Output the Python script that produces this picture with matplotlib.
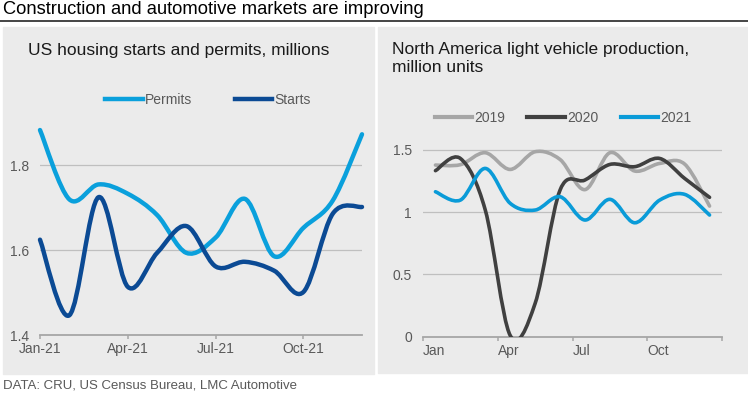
import numpy as np
import matplotlib
matplotlib.use("Agg")
import matplotlib.pyplot as plt
from matplotlib.path import Path
from matplotlib.patches import PathPatch, Rectangle
from matplotlib.lines import Line2D

plt.rcParams['font.family'] = ['Liberation Sans', 'DejaVu Sans']

# US housing, millions (Jan-21 .. Dec-21)
housing_months = list(range(12))
permits = [1.883, 1.720, 1.755, 1.733, 1.683, 1.594, 1.630, 1.721, 1.586, 1.653, 1.717, 1.873]
starts = [1.625, 1.447, 1.725, 1.514, 1.594, 1.657, 1.562, 1.573, 1.552, 1.502, 1.686, 1.702]
housing_ticks = [0, 3, 6, 9]
housing_labels = ['Jan-21', 'Apr-21', 'Jul-21', 'Oct-21']

# North America light vehicle production, million units
veh_months = list(range(12))
lv_2019 = [1.377, 1.380, 1.476, 1.342, 1.484, 1.422, 1.180, 1.476, 1.329, 1.390, 1.385, 1.048]
lv_2020 = [1.332, 1.430, 1.016, 0.010, 0.267, 1.176, 1.257, 1.382, 1.364, 1.430, 1.270, 1.118]
lv_2021 = [1.163, 1.096, 1.350, 1.070, 1.016, 1.123, 0.936, 1.102, 0.914, 1.096, 1.142, 0.976]
veh_labels = ['Jan', 'Apr', 'Jul', 'Oct']

TXT = '#595959'
GRID = '#BFBFBF'
AXIS = '#A6A6A6'
BG = '#EBEBEB'


def smooth_path(x, y):
    # excel-like smoothed line: cubic bezier segments, catmull-rom tangents
    x = np.asarray(x, float)
    y = np.asarray(y, float)
    n = len(x)
    verts = [(x[0], y[0])]
    codes = [Path.MOVETO]
    for i in range(n - 1):
        i0 = max(i - 1, 0)
        i3 = min(i + 2, n - 1)
        c1 = (x[i] + (x[i + 1] - x[i0]) / 6, y[i] + (y[i + 1] - y[i0]) / 6)
        c2 = (x[i + 1] - (x[i3] - x[i]) / 6, y[i + 1] - (y[i3] - y[i]) / 6)
        verts += [c1, c2, (x[i + 1], y[i + 1])]
        codes += [Path.CURVE4] * 3
    return Path(verts, codes)


def add_line(ax, x, y, color, lw, clip=True):
    p = PathPatch(smooth_path(x, y), fill=False, edgecolor=color, lw=lw,
                  capstyle='round', joinstyle='round', zorder=3, clip_on=clip)
    ax.add_patch(p)


def style_axes(ax):
    ax.set_facecolor('none')
    for s in ['top', 'right', 'left']:
        ax.spines[s].set_visible(False)
    ax.spines['bottom'].set_color(AXIS)
    ax.spines['bottom'].set_linewidth(1.3)
    ax.tick_params(axis='y', length=0, labelsize=10, labelcolor=TXT, pad=8)
    ax.tick_params(axis='x', length=3, width=1.1, color=AXIS, labelsize=10,
                   labelcolor=TXT, pad=2, direction='out')
    ax.grid(axis='y', color=GRID, lw=0.9)
    ax.set_axisbelow(True)


fig = plt.figure(figsize=(7.48, 3.99), dpi=100)
W, H = 748, 399

# header
fig.text(3 / W, 1 - 10 / H, 'Construction and automotive markets are improving',
         fontsize=13.2, color='black', va='center', ha='left')
fig.add_artist(Line2D([0, 1], [1 - 21 / H, 1 - 21 / H], color='#262626', lw=1.2))

# panel backgrounds
fig.add_artist(Rectangle((3 / W, 1 - 374 / H), 371 / W, 347 / H, color=BG, zorder=0))
fig.add_artist(Rectangle((378 / W, 1 - 373 / H), 370 / W, 346 / H, color=BG, zorder=0))

fig.text(3 / W, 1 - 385 / H, 'DATA: CRU, US Census Bureau, LMC Automotive',
         fontsize=9.5, color=TXT, va='center', ha='left')

# left panel: housing
ax1 = fig.add_axes([40 / W, 1 - 335.3 / H, 322 / W, 212.5 / H])
style_axes(ax1)
add_line(ax1, housing_months, permits, '#0AA0DC', 3.2, clip=False)
add_line(ax1, housing_months, starts, '#0B4A94', 3.2, clip=False)
ax1.set_xlim(0, 11)
ax1.set_ylim(1.4, 1.9)
ax1.set_yticks([1.4, 1.6, 1.8])
ax1.set_yticklabels(['1.4', '1.6', '1.8'])
ax1.set_xticks(housing_ticks)
ax1.set_xticklabels(housing_labels)
fig.text(28 / W, 1 - 50 / H, 'US housing starts and permits, millions',
         fontsize=12.5, color='#1A1A1A', va='center', ha='left')
h1 = [Line2D([], [], color='#0AA0DC', lw=3.2), Line2D([], [], color='#0B4A94', lw=3.2)]
fig.legend(h1, ['Permits', 'Starts'], loc='center', bbox_to_anchor=(208 / W, 1 - 100 / H),
           ncol=2, frameon=False, fontsize=10, labelcolor=TXT, handlelength=2.7,
           handletextpad=0.15, columnspacing=3.1)

# right panel: vehicles
ax2 = fig.add_axes([423 / W, 1 - 336.7 / H, 299 / W, 193.2 / H])
style_axes(ax2)
add_line(ax2, veh_months, lv_2019, '#A6A6A6', 2.6)
add_line(ax2, veh_months, lv_2020, '#404040', 2.6)
add_line(ax2, veh_months, lv_2021, '#0A9BD8', 2.6)
ax2.set_xlim(-0.5, 11.5)
ax2.set_ylim(0, 1.55)
ax2.set_yticks([0, 0.5, 1, 1.5])
ax2.set_yticklabels(['0', '0.5', '1', '1.5'])
ax2.set_xticks([-0.5, 2.5, 5.5, 8.5, 11.5])
ax2.set_xticklabels(veh_labels + [''], ha='left')
fig.text(392 / W, 1 - 58.5 / H, 'North America light vehicle production,\nmillion units',
         fontsize=12.5, color='#1A1A1A', va='center', ha='left', linespacing=1.2)
h2 = [Line2D([], [], color='#A6A6A6', lw=3), Line2D([], [], color='#404040', lw=3),
      Line2D([], [], color='#0A9BD8', lw=3)]
fig.legend(h2, ['2019', '2020', '2021'], loc='center', bbox_to_anchor=(563 / W, 1 - 118 / H),
           ncol=3, frameon=False, fontsize=10, labelcolor=TXT, handlelength=2.7,
           handletextpad=0.15, columnspacing=1.6)

fig.savefig('out.png', dpi=100, facecolor='white')
